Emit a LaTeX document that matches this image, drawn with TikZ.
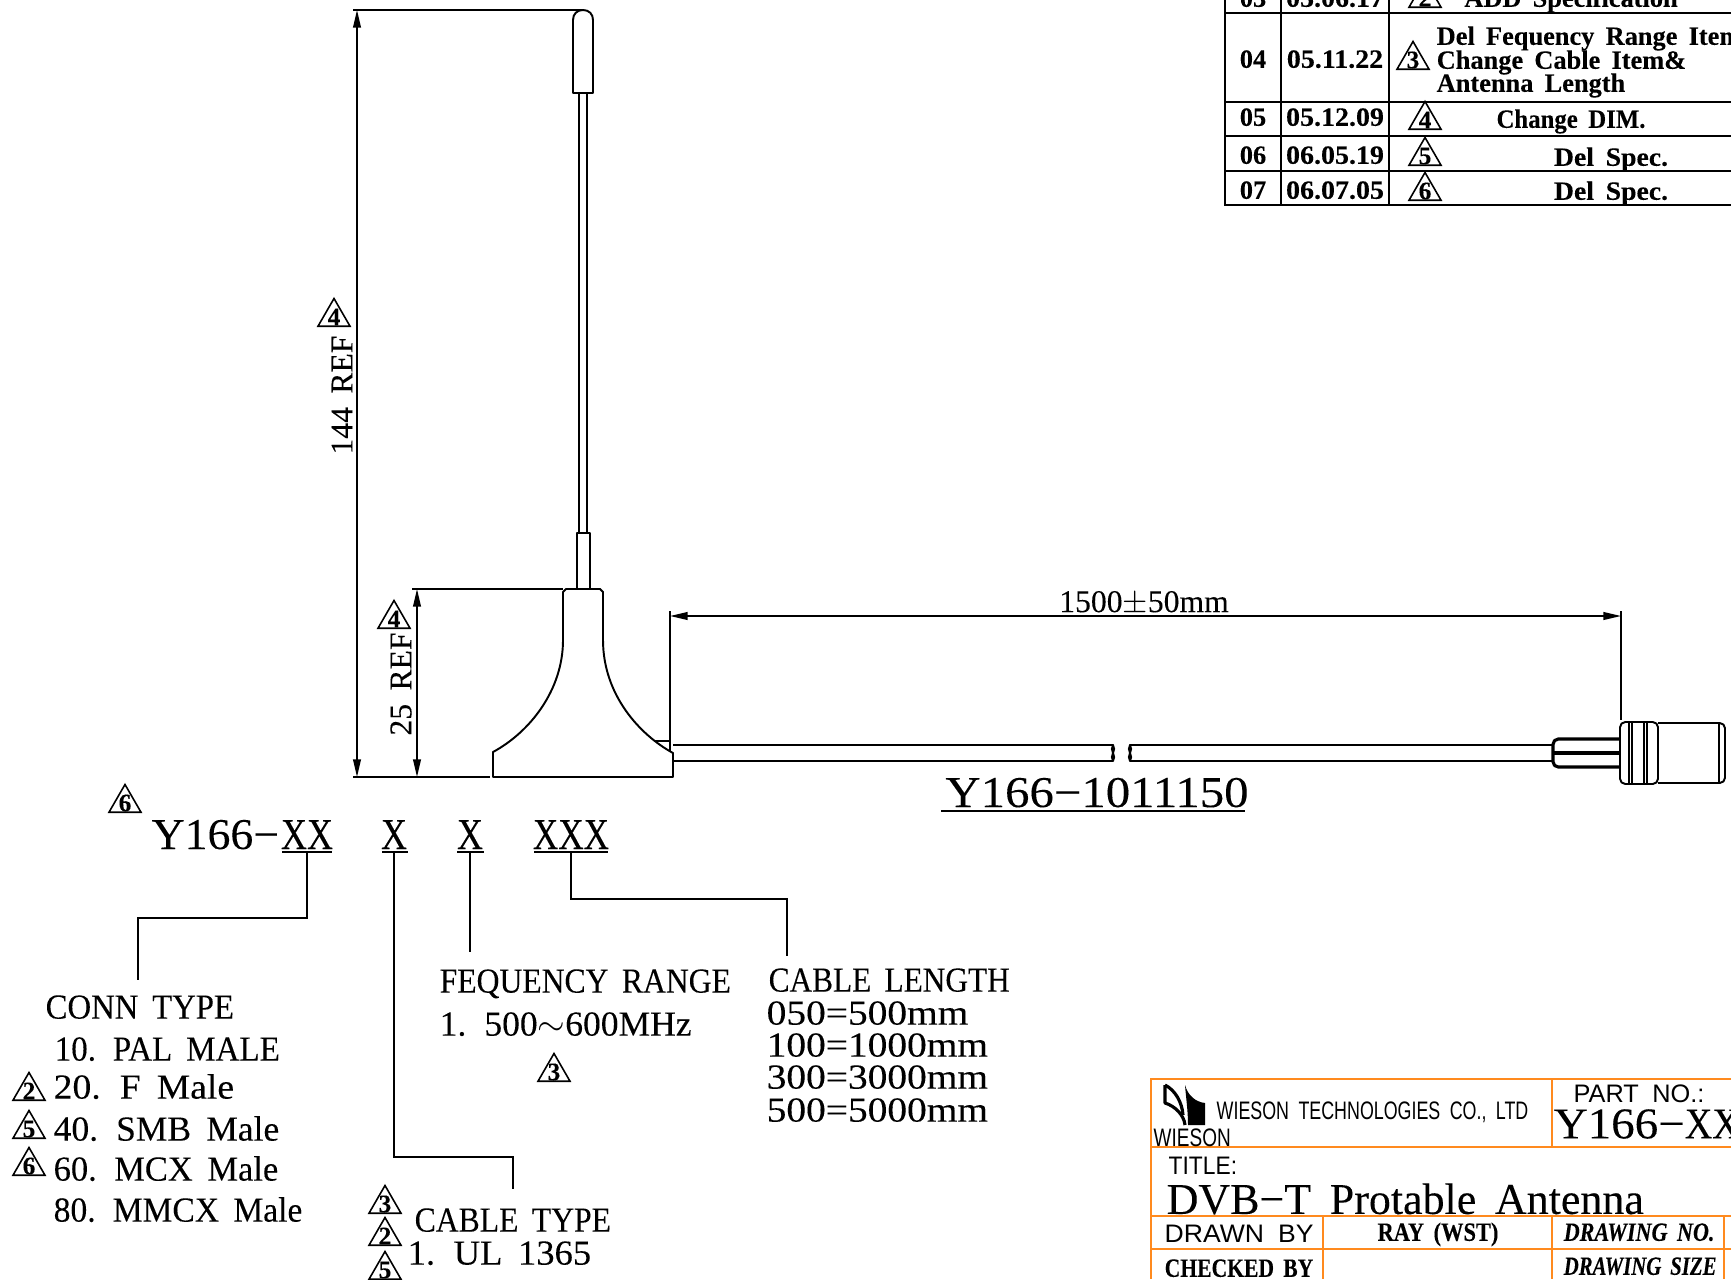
\documentclass[tikz,border=0pt]{standalone}
\usepackage{fontspec}
\setmainfont{Liberation Serif}[WordSpace=1.7,FakeBold=0.12]
\newfontfamily\cadsans{Liberation Sans}[WordSpace=1.9]
\usetikzlibrary{arrows.meta,shapes.geometric}
\definecolor{blockorange}{HTML}{FF8A1E}
\newcommand{\hs}[2]{\scalebox{#1}[1]{#2}}
\tikzset{
  part/.style={line width=0.55pt, line join=round},
  dimline/.style={line width=0.45pt, {Triangle[length=5pt,width=2.2pt]}-{Triangle[length=5pt,width=2.2pt]}},
  leader/.style={line width=0.45pt},
  grid/.style={line width=0.75pt},
  orange grid/.style={line width=0.6pt, blockorange},
  revmark/.style={regular polygon, regular polygon sides=3, draw, line width=0.45pt, minimum size=0.37cm, inner sep=-2pt, font=\bfseries\fontsize{7.2}{7.2}\selectfont},
  code/.style={anchor=base, inner sep=1.2pt, font=\fontsize{12.5}{12.5}\selectfont},
  item/.style={anchor=west, inner sep=0pt, text height=6.6pt, text depth=0pt, font=\fontsize{10}{10}\selectfont},
  cell/.style={inner sep=0pt, text height=5pt, text depth=0pt, font=\bfseries\fontsize{7.5}{7.5}\selectfont},
  cell it/.style={cell, anchor=west, font=\bfseries\itshape\fontsize{7.5}{7.5}\selectfont},
  thin sans/.style={anchor=west, inner sep=0pt, text height=5.2pt, text depth=0pt, font=\cadsans\fontsize{7.2}{7.2}\selectfont}
}
\begin{document}
\begin{tikzpicture}[x=0.01cm,y=-0.01cm]
  \useasboundingbox (0,0) rectangle (1731,1279);
  % antenna
  \draw[part] (573,93) -- (573,20) .. controls (573,14) and (577,10) .. (583,10) .. controls (589,10) and (593,14) .. (593,20) -- (593,93) -- cycle;
  \draw[part] (579,93) -- (579,533);
  \draw[part] (587,93) -- (587,533);
  \draw[part] (577,589) -- (577,533) -- (590,533) -- (590,589);
  \draw[part] (563,592) -- (563,640) .. controls (563,690) and (530,732) .. (493,752) -- (493,777) -- (673,777) -- (673,753) .. controls (640,735) and (603,695) .. (603,640) -- (603,592) -- (600,589) -- (566,589) -- cycle;
  \draw[part] (655,741) -- (670,741) -- (670,752);
  % dimensions
  \coordinate (top) at (357,10);
  \coordinate (bottom) at (357,777);
  \coordinate (basetop) at (417,589);
  \coordinate (basebot) at (417,777);
  \coordinate (cableleft) at (670,616);
  \coordinate (cableright) at (1621,616);
  \draw[leader] (353,10) -- (583,10);
  \draw[leader] (353,777) -- (490,777);
  \draw[leader] (500,777) -- (507,777);
  \draw[leader] (412,589) -- (563,589);
  \draw[leader] (670,611) -- (670,741);
  \draw[leader] (1621,611) -- (1621,720);
  \draw[dimline] (top) -- (bottom);
  \draw[dimline] (basetop) -- (basebot);
  \draw[dimline] (cableleft) -- (cableright);
  \node[rotate=90,inner sep=0pt,font=\fontsize{9}{9}\selectfont] (dimheight) at (342,395) {144 REF};
  \node[rotate=90,inner sep=0pt,font=\fontsize{9}{9}\selectfont] (dimbase) at (401,684) {25 REF};
  \node[inner sep=0pt,font=\fontsize{9}{9}\selectfont] (dimcable) at (1144,603) {1500$\pm$50mm};
  \node[revmark] (revheight) at (334,317) {4};
  \node[revmark] (revbase) at (394,619) {4};
  % cable
  \draw[part] (673,745) -- (1113,745) .. controls (1109,750) and (1117,756) .. (1113,761) -- (673,761);
  \draw[part] (1113,745) .. controls (1117,750) and (1109,756) .. (1113,761);
  \draw[part] (1552,745) -- (1130,745) .. controls (1134,750) and (1126,756) .. (1130,761) -- (1552,761);
  \draw[part] (1130,745) .. controls (1126,750) and (1134,756) .. (1130,761);
  % connector
  \draw[part,line width=0.9pt,rounded corners=1.5pt] (1620,739) -- (1553,739) -- (1553,767) -- (1620,767);
  \draw[part,line width=0.9pt] (1553,753) -- (1620,753);
  \draw[part,rounded corners=1.5pt] (1620,722) rectangle (1658,784);
  \draw[part] (1629,722) -- (1629,784);
  \draw[part] (1632,722) -- (1632,784);
  \draw[part] (1644,722) -- (1644,784);
  \draw[part] (1647,722) -- (1647,784);
  \draw[part,rounded corners=1.5pt] (1658,723) -- (1725,723) -- (1725,783) -- (1658,783);
  \draw[part] (1719,723) -- (1719,783);
  \node[code] (cableno) at (1097,807) {\hs{1.11}{Y166\textminus1011150}};
  \draw[leader] (941,811) -- (1245,811);
  % part number
  \node[revmark] (revpart) at (125,803) {6};
  \node[code,anchor=base west,inner sep=0pt] (partno) at (151,849) {\hs{1.04}{Y166\textminus}};
  \node[code] (codeconn) at (307,849) {\hs{.82}{XX}};
  \node[code] (codetype) at (394,849) {\hs{.82}{X}};
  \node[code] (codefreq) at (470,849) {\hs{.82}{X}};
  \node[code] (codelen) at (571,849) {\hs{.8}{XXX}};
  \draw[leader] (282,852) -- (332,852);
  \draw[leader] (382,852) -- (408,852);
  \draw[leader] (457,852) -- (484,852);
  \draw[leader] (534,852) -- (608,852);
  \coordinate (connend) at (138,980);
  \coordinate (typeend) at (513,1189);
  \coordinate (freqend) at (470,952);
  \coordinate (lenend) at (787,956);
  \draw[leader] (codeconn |- 0,852) -- ++(0,66) -| (connend);
  \draw[leader] (codetype |- 0,852) -- ++(0,305) -| (typeend);
  \draw[leader] (codefreq |- 0,852) -- (freqend);
  \draw[leader] (codelen |- 0,852) -- ++(0,47) -| (lenend);
  % conn type
  \node[item] (conn) at (45,1007) {\hs{.93}{CONN TYPE}};
  \node[item] (conn10) at (54,1049) {\hs{.94}{10. PAL MALE}};
  \node[item] (conn20) at (53,1087) {\hs{1.07}{20. F Male}};
  \node[item] (conn40) at (53,1129) {\hs{1.01}{40. SMB Male}};
  \node[item] (conn60) at (53,1169) {\hs{.98}{60. MCX Male}};
  \node[item] (conn80) at (53,1210) {\hs{.955}{80. MMCX Male}};
  \node[revmark] (rev20) at (29,1091) {2};
  \node[revmark] (rev40) at (29,1129) {5};
  \node[revmark] (rev60) at (29,1166) {6};
  % frequency
  \node[item] (freq) at (439,981) {\hs{.9}{FEQUENCY RANGE}};
  \node[item] (freq1) at (439,1024) {\hs{1.01}{1. 500$\sim$600MHz}};
  \node[revmark] (revfreq) at (554,1072) {3};
  % length
  \node[item] (len) at (768,980) {\hs{.89}{CABLE LENGTH}};
  \node[item] (len050) at (766,1013) {\hs{1.12}{050=500mm}};
  \node[item] (len100) at (766,1045) {\hs{1.12}{100=1000mm}};
  \node[item] (len300) at (766,1077) {\hs{1.12}{300=3000mm}};
  \node[item] (len500) at (766,1110) {\hs{1.12}{500=5000mm}};
  % cable type
  \node[item] (cabletype) at (414,1220) {\hs{.9}{CABLE TYPE}};
  \node[item] (cable1) at (407,1253) {\hs{1.04}{1. UL 1365}};
  \node[revmark] (revtype3) at (385,1204) {3};
  \node[revmark] (revtype2) at (385,1236) {2};
  \node[revmark] (revtype5) at (385,1270) {5};
  % revision table
  \draw[grid] (1225,0) -- (1225,205) -- (1731,205);
  \draw[grid] (1281,0) -- (1281,205);
  \draw[grid] (1389,0) -- (1389,205);
  \draw[grid] (1225,13) -- (1731,13);
  \draw[grid] (1225,102) -- (1731,102);
  \draw[grid] (1225,136) -- (1731,136);
  \draw[grid] (1225,171) -- (1731,171);
  \node[cell] (no03) at (1253,-2) {03};
  \node[cell] (date03) at (1335,-2) {\hs{1.06}{05.06.17}};
  \node[revmark] (rev03) at (1425,-2) {2};
  \node[cell] (text03) at (1571,-2) {ADD Specification};
  \node[cell] (no04) at (1253,59) {04};
  \node[cell] (date04) at (1335,59) {\hs{1.06}{05.11.22}};
  \node[revmark] (rev04) at (1413,60) {3};
  \node[cell,anchor=west] (text04a) at (1436,36) {Del Fequency Range Item};
  \node[cell,anchor=west] (text04b) at (1436,60) {Change Cable Item\&};
  \node[cell,anchor=west] (text04c) at (1436,83) {Antenna Length};
  \node[cell] (no05) at (1253,117) {05};
  \node[cell] (date05) at (1335,117) {\hs{1.06}{05.12.09}};
  \node[revmark] (rev05) at (1425,120) {4};
  \node[cell] (text05) at (1571,119) {\hs{.94}{Change DIM.}};
  \node[cell] (no06) at (1253,155) {06};
  \node[cell] (date06) at (1335,155) {\hs{1.06}{06.05.19}};
  \node[revmark] (rev06) at (1425,156) {5};
  \node[cell] (text06) at (1611,157) {\hs{1.05}{Del Spec.}};
  \node[cell] (no07) at (1253,190) {07};
  \node[cell] (date07) at (1335,190) {\hs{1.06}{06.07.05}};
  \node[revmark] (rev07) at (1425,191) {6};
  \node[cell] (text07) at (1611,191) {\hs{1.05}{Del Spec.}};
  % title block
  \draw[orange grid] (1731,1079) -- (1151,1079) -- (1151,1279);
  \draw[orange grid] (1151,1147) -- (1731,1147);
  \draw[orange grid] (1151,1216) -- (1731,1216);
  \draw[orange grid] (1151,1249) -- (1731,1249);
  \draw[orange grid] (1552,1079) -- (1552,1147);
  \draw[orange grid] (1323,1216) -- (1323,1279);
  \draw[orange grid] (1552,1216) -- (1552,1279);
  \draw[orange grid] (1724,1216) -- (1724,1279);
  \draw[part,line width=0.9pt] (1165,1085) -- (1165,1103) .. controls (1175,1106) and (1184,1115) .. (1185,1125);
  \draw[part,line width=0.9pt] (1165,1085) .. controls (1175,1090) and (1182,1102) .. (1183,1115);
  \fill (1185,1085) .. controls (1188,1096) and (1196,1102) .. (1205,1103) -- (1205,1125) -- (1188,1125) .. controls (1188,1111) and (1186,1098) .. (1185,1085) -- cycle;
  \node[thin sans] (company) at (1216,1110) {\hs{.705}{WIESON TECHNOLOGIES CO., LTD}};
  \node[thin sans] (logoname) at (1153,1137) {\hs{.75}{WIESON}};
  \node[thin sans] (partlabel) at (1573,1093) {PART NO.:};
  \node[code,anchor=west,inner sep=0pt] (partval) at (1553,1124) {\hs{1.07}{Y166\textminus}\hs{.87}{XX}};
  \node[thin sans] (titlelabel) at (1168,1165) {\hs{.9}{TITLE:}};
  \node[code,anchor=west,inner sep=0pt] (titleval) at (1166,1199) {DVB\textminus T Protable Antenna};
  \node[thin sans] (drawn) at (1164,1233) {\hs{1.05}{DRAWN BY}};
  \node[cell] (drawnby) at (1438,1232) {\hs{.85}{RAY (WST)}};
  \node[cell it] (drawingno) at (1563,1232) {\hs{.84}{DRAWING NO.}};
  \node[cell,anchor=west] (checked) at (1164,1268) {\hs{.82}{CHECKED BY}};
  \node[cell it] (drawingsize) at (1563,1266) {\hs{.79}{DRAWING SIZE}};
\end{tikzpicture}
\end{document}
